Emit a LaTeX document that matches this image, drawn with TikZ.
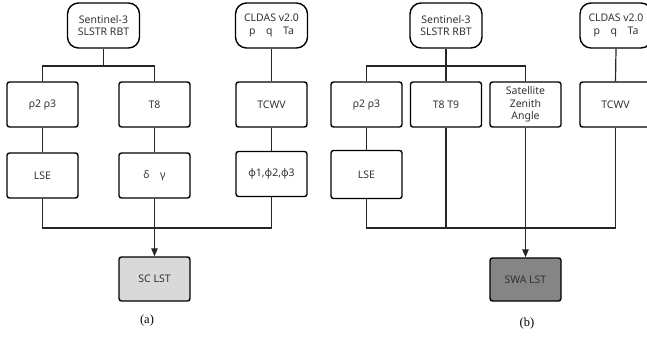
\documentclass[tikz,border=0pt]{standalone}
\usepackage{fontspec}
\setmainfont{Noto Sans}
\newfontfamily\capfont{Liberation Serif}
\usetikzlibrary{arrows.meta}
\definecolor{txt}{HTML}{333333}
\definecolor{lgray}{HTML}{D9D9D9}
\definecolor{dgray}{HTML}{858585}
\tikzset{
  box/.style={draw=black, line width=1.4pt, rounded corners=2.5pt, minimum width=71pt, minimum height=45pt, inner sep=1pt, align=center, font=\fontsize{10.5}{12.5}\selectfont, text=txt},
  srcbox/.style={box, rounded corners=11pt, minimum width=72pt},
  conn/.style={line width=1.2pt, draw=black!85},
  arr/.style={conn, -{Triangle[length=8pt,width=6.5pt]}},
  captext/.style={font=\capfont\fontsize{12.5}{14}\selectfont}
}
\begin{document}
\begin{tikzpicture}[x=1pt,y=-1pt]
\useasboundingbox (0,0) rectangle (647,338);
\clip (0,0) rectangle (647,338);
% panel (a)
\node[srcbox] (s1) at (103.5,25.5) {Sentinel-3\\SLSTR RBT};
\node[srcbox] (c1) at (271.5,25.5) {CLDAS v2.0\\p\quad q\quad Ta};
\node[box] (r1) at (42.5,104.5) {ρ2 ρ3};
\node[box] (t1) at (154.5,104.5) {T8};
\node[box] (w1) at (271.5,104.5) {TCWV};
\node[box] (l1) at (42.5,175.5) {LSE};
\node[box] (d1) at (154.5,175.5) {δ\quad γ};
\node[box] (p1) at (271.5,174) {φ1,φ2,φ3};
\node[box, fill=lgray, minimum height=44pt] (sc) at (154.5,279) {SC LST};
\node[captext] (la) at (147,320) {(a)};
\coordinate (ja) at (103.5,66);
\coordinate (ja1) at (42.5,66);
\coordinate (ja2) at (154.5,66);
\coordinate (ma) at (154.5,228);
\draw[conn] (s1.south) -- (ja);
\draw[conn] (r1.north) -- (ja1) -- (ja2) -- (t1.north);
\draw[conn] (c1.south) -- (w1.north);
\draw[conn] (r1.south) -- (l1.north);
\draw[conn] (t1.south) -- (d1.north);
\draw[conn] (w1.south) -- (p1.north);
\draw[conn] (l1.south) |- (ma) -| (p1.south);
\draw[arr] (d1.south) -- (sc.north);
% panel (b)
\node[srcbox] (s2) at (446,25.5) {Sentinel-3\\SLSTR RBT};
\node[srcbox] (c2) at (616,25.5) {CLDAS v2.0\\p\quad q\quad Ta};
\node[box] (r2) at (366.5,104.5) {ρ2 ρ3};
\node[box] (t2) at (446,104.5) {T8 T9};
\node[box] (z2) at (525.5,104.5) {Satellite\\Zenith\\Angle};
\node[box] (w2) at (615.5,104.5) {TCWV};
\node[box, minimum height=48pt] (l2) at (366.5,174.5) {LSE};
\node[box, fill=dgray, minimum height=43pt] (sw) at (525.5,279.5) {SWA LST};
\node[captext] (lb) at (527,323) {(b)};
\coordinate (jb) at (446,66);
\coordinate (jb1) at (366.5,66);
\coordinate (jb2) at (525.5,66);
\coordinate (mb) at (525.5,228);
\coordinate (mt) at (446,228);
\draw[conn] (s2.south) -- (jb);
\draw[conn] (r2.north) -- (jb1) -- (jb2) -- (z2.north);
\draw[conn] (jb) -- (t2.north);
\draw[conn] (c2.south) -- (w2.north);
\draw[conn] (r2.south) -- (l2.north);
\draw[conn] (l2.south) |- (mb) -| (w2.south);
\draw[conn] (t2.south) -- (mt);
\draw[arr] (z2.south) -- (sw.north);
\end{tikzpicture}
\end{document}
